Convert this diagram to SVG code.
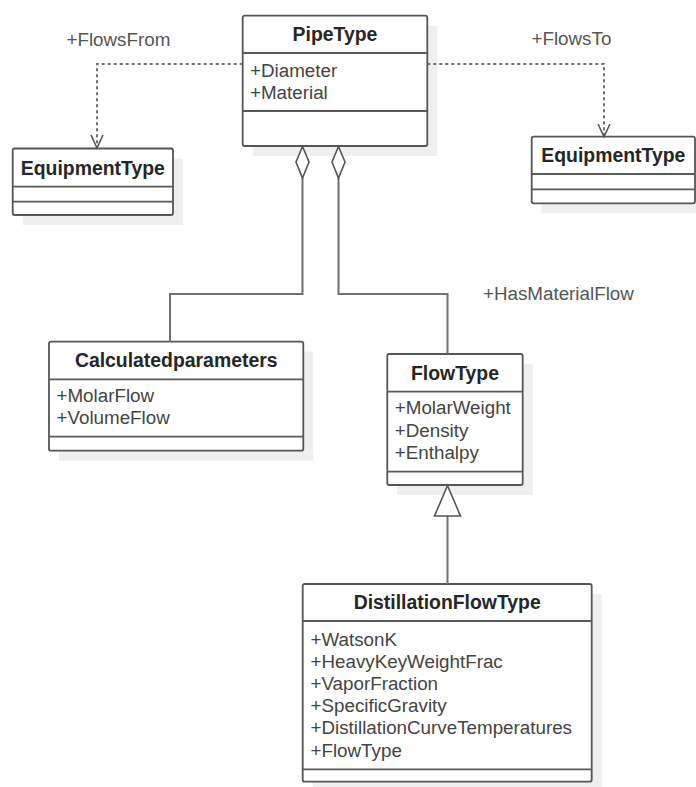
<svg xmlns="http://www.w3.org/2000/svg" width="696" height="787" viewBox="0 0 696 787">
  <style>
    .shadow { fill: #efefef; stroke: none; }
    .box { fill: #ffffff; stroke: #555555; stroke-width: 1.8; }
    .div { stroke: #5a5a5a; stroke-width: 1.8; }
    .title { font-family: "Liberation Sans", Arial, sans-serif; font-size: 19.4px; font-weight: bold; fill: #262626; text-anchor: middle; }
    .attr { font-family: "Liberation Sans", Arial, sans-serif; font-size: 18.8px; fill: #444444; }
    .label { font-family: "Liberation Sans", Arial, sans-serif; font-size: 18.8px; fill: #555555; }
    .solid { fill: none; stroke: #707070; stroke-width: 2; }
    .dotted { fill: none; stroke: #707070; stroke-width: 2; stroke-dasharray: 3 3; }
    .head { fill: none; stroke: #555555; stroke-width: 1.6; }
    .hollow { fill: #ffffff; stroke: #555555; stroke-width: 1.6; stroke-linejoin: miter; }
  </style>

  <!-- PipeType -->
  <g id="PipeType">
    <rect class="shadow" x="252.7" y="25.7" width="184.6" height="130.3"/>
    <rect class="box" x="242.7" y="15.7" width="184.6" height="130.3" rx="2"/>
    <line class="div" x1="242.7" y1="53" x2="427.3" y2="53"/>
    <line class="div" x1="242.7" y1="111" x2="427.3" y2="111"/>
    <text class="title" x="335" y="41">PipeType</text>
    <text class="attr" x="250" y="76.7">+Diameter</text>
    <text class="attr" x="250" y="99">+Material</text>
  </g>

  <!-- EquipmentType (source) -->
  <g id="EquipmentTypeFrom">
    <rect class="shadow" x="22.7" y="158.5" width="160.3" height="66.5"/>
    <rect class="box" x="12.7" y="148.5" width="160.3" height="66.5" rx="2"/>
    <line class="div" x1="12.7" y1="186.7" x2="173" y2="186.7"/>
    <line class="div" x1="12.7" y1="201.7" x2="173" y2="201.7"/>
    <text class="title" x="92.8" y="174.5">EquipmentType</text>
  </g>

  <!-- EquipmentType (target) -->
  <g id="EquipmentTypeTo">
    <rect class="shadow" x="541.7" y="146.7" width="163.3" height="66.6"/>
    <rect class="box" x="531.7" y="136.7" width="163.3" height="66.6" rx="2"/>
    <line class="div" x1="531.7" y1="174" x2="695" y2="174"/>
    <line class="div" x1="531.7" y1="189.3" x2="695" y2="189.3"/>
    <text class="title" x="613.3" y="162">EquipmentType</text>
  </g>

  <!-- Calculatedparameters -->
  <g id="Calculatedparameters">
    <rect class="shadow" x="59" y="351.7" width="254.3" height="109"/>
    <rect class="box" x="49" y="341.7" width="254.3" height="109" rx="2"/>
    <line class="div" x1="49" y1="379.3" x2="303.3" y2="379.3"/>
    <line class="div" x1="49" y1="436.7" x2="303.3" y2="436.7"/>
    <text class="title" x="176.2" y="367">Calculatedparameters</text>
    <text class="attr" x="56.5" y="401.7">+MolarFlow</text>
    <text class="attr" x="56.5" y="424">+VolumeFlow</text>
  </g>

  <!-- FlowType -->
  <g id="FlowType">
    <rect class="shadow" x="397.3" y="364" width="135.4" height="131"/>
    <rect class="box" x="387.3" y="354" width="135.4" height="131" rx="2"/>
    <line class="div" x1="387.3" y1="391.7" x2="522.7" y2="391.7"/>
    <line class="div" x1="387.3" y1="471.7" x2="522.7" y2="471.7"/>
    <text class="title" x="455" y="379.5">FlowType</text>
    <text class="attr" x="394.8" y="414.3">+MolarWeight</text>
    <text class="attr" x="394.8" y="436.5">+Density</text>
    <text class="attr" x="394.8" y="458.5">+Enthalpy</text>
  </g>

  <!-- DistillationFlowType -->
  <g id="DistillationFlowType">
    <rect class="shadow" x="312.7" y="594" width="289" height="197.7"/>
    <rect class="box" x="302.7" y="584" width="289" height="197.7" rx="2"/>
    <line class="div" x1="302.7" y1="621" x2="591.7" y2="621"/>
    <line class="div" x1="302.7" y1="769.3" x2="591.7" y2="769.3"/>
    <text class="title" x="447.2" y="609">DistillationFlowType</text>
    <text class="attr" x="310.5" y="646">+WatsonK</text>
    <text class="attr" x="310.5" y="668.1">+HeavyKeyWeightFrac</text>
    <text class="attr" x="310.5" y="690.2">+VaporFraction</text>
    <text class="attr" x="310.5" y="712.3">+SpecificGravity</text>
    <text class="attr" x="310.5" y="734.4">+DistillationCurveTemperatures</text>
    <text class="attr" x="310.5" y="756.5">+FlowType</text>
  </g>

  <!-- Connectors, drawn above the node shadows -->
  <g id="connectors">
    <!-- PipeType -> EquipmentType (FlowsFrom) -->
    <polyline class="dotted" points="242.7,64 97,64 97,147"/>
    <polyline class="head" points="91,135 97,148 103,135"/>
    <!-- PipeType -> EquipmentType (FlowsTo) -->
    <polyline class="dotted" points="427.3,64 604,64 604,135.5"/>
    <polyline class="head" points="598,124 604,136.7 610,124"/>
    <!-- aggregation PipeType <> Calculatedparameters -->
    <polyline class="solid" points="302.5,178 302.5,294 170,294 170,341.7"/>
    <polygon class="hollow" points="302.5,146.5 309,162 302.5,178 296,162"/>
    <!-- aggregation PipeType <> FlowType -->
    <polyline class="solid" points="338.5,178 338.5,294 447.5,294 447.5,354"/>
    <polygon class="hollow" points="338.5,146.5 345,162 338.5,178 332,162"/>
    <!-- generalization DistillationFlowType -> FlowType -->
    <line class="solid" x1="447.5" y1="516" x2="447.5" y2="584"/>
    <polygon class="hollow" points="447.5,485.5 460.5,516 434.5,516"/>

    <text class="label" x="66.5" y="45.7">+FlowsFrom</text>
    <text class="label" x="531.5" y="44.5">+FlowsTo</text>
    <text class="label" x="483" y="299.5">+HasMaterialFlow</text>
  </g>
</svg>
